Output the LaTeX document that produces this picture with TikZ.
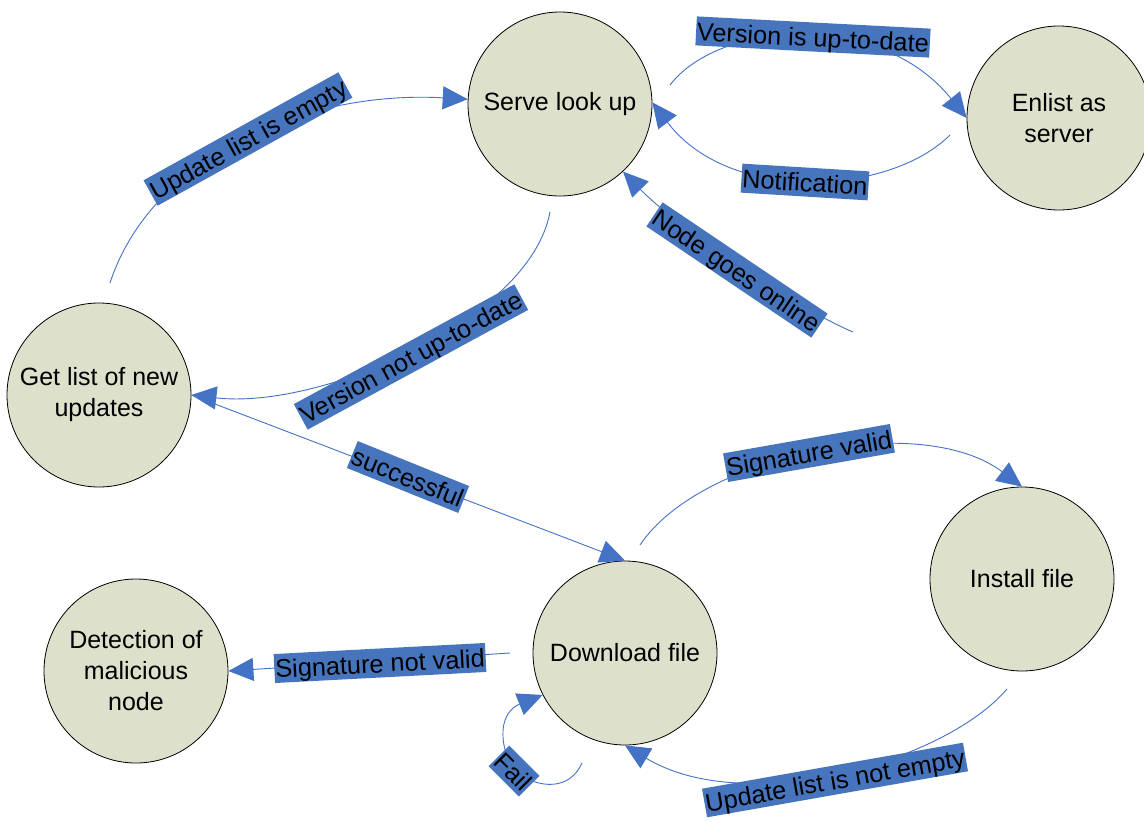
\documentclass[tikz,border=0pt]{standalone}
\usepackage{fontspec}
\setmainfont{Liberation Sans}
\usetikzlibrary{arrows.meta}
\definecolor{nodefill}{RGB}{221,225,204}
\definecolor{edgeblue}{RGB}{68,114,196}
\definecolor{labblue}{RGB}{70,117,190}
\begin{document}
\begin{tikzpicture}[x=1pt,y=-1pt,
  state/.style={circle, draw=black, line width=0.8pt, fill=nodefill, minimum size=184pt, inner sep=0pt, align=center, font=\fontsize{25}{31}\selectfont},
  conn/.style={draw=edgeblue, line width=0.9pt, -{Triangle[length=25pt,width=23pt]}},
  lab/.style={fill=labblue, inner xsep=1pt, inner ysep=1pt, text height=23pt, text depth=4pt, font=\fontsize{25.3}{30}\selectfont, text=black}]
\useasboundingbox (0,0) rectangle (1144,822);
\fill[white] (0,0) rectangle (1144,822);
% states
\node[state] (serve) at (560,104) {Serve look up};
\node[state] (enlist) at (1059,118) {Enlist as\\server};
\node[state] (getlist) at (99,395) {Get list of new\\updates};
\node[state] (download) at (625,653) {Download file};
\node[state] (install) at (1022,579) {Install file};
\node[state] (detect) at (136,671) {Detection of\\malicious\\node};
% free tail ends of the connectors
\coordinate (getlistout) at (110,283);
\coordinate (serveoutA) at (550,212);
\coordinate (serveoutB) at (670,85);
\coordinate (enlistout) at (950,135);
\coordinate (onlinein) at (853,332);
\coordinate (downloadoutA) at (640,545);
\coordinate (installout) at (1007,689);
\coordinate (downloadoutB) at (510,653);
\coordinate (downloadoutC) at (582,763);
\coordinate (failmid) at (514,771);
% connectors
\draw[conn] (getlistout) .. controls (150,160) and (300,90) .. (serve.177);
\draw[conn] (serveoutA) .. controls (530,320) and (320,410) .. (getlist.east);
\draw[conn] (getlist.east) -- (download.north);
\draw[conn] (serveoutB) .. controls (720,20) and (880,10) .. (enlist.west);
\draw[conn] (enlistout) .. controls (890,195) and (730,205) .. (serve.1);
\draw[conn] (onlinein) .. controls (800,310) and (680,230) .. (serve.-47);
\draw[conn] (downloadoutA) .. controls (700,455) and (920,410) .. (install.north);
\draw[conn] (installout) .. controls (945,762) and (745,818) .. (download.south);
\draw[conn] (downloadoutB) -- (detect.east);
\draw[conn] (downloadoutC) .. controls (570,790) and (540,790) .. (failmid) .. controls (497,742) and (500,712) .. (download.207);
% labels
\node[lab, rotate=29] (l1) at (248,139) {Update list is empty};
\node[lab, rotate=28.5] (l2) at (411,357) {Version not up-to-date};
\node[lab, rotate=-22] (l3) at (408,477) {successful};
\node[lab, rotate=-3] (l4) at (813,37) {Version is up-to-date};
\node[lab, rotate=-3.5] (l5) at (805,182) {Notification};
\node[lab, rotate=-34] (l6) at (737,270) {Node goes online};
\node[lab, rotate=10] (l7) at (809,453) {Signature valid};
\node[lab, rotate=10] (l8) at (835,780) {Update list is not empty};
\node[lab, rotate=3] (l9) at (380,663) {Signature not valid};
\node[lab, rotate=-45] (l10) at (514,771) {Fail};
\end{tikzpicture}
\end{document}
